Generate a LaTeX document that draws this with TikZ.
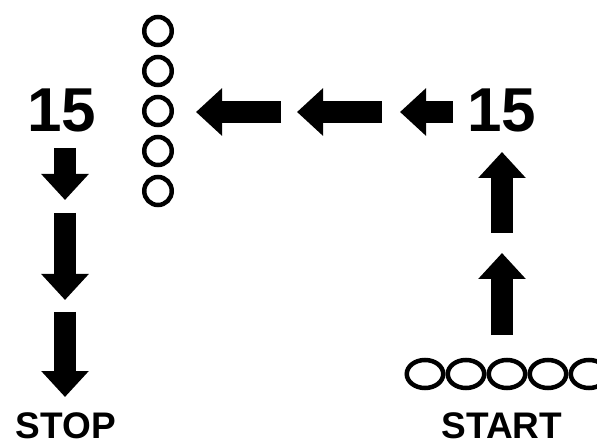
\documentclass[tikz,border=0pt]{standalone}
\usepackage{fontspec}
\setmainfont{Liberation Sans}
\usetikzlibrary{arrows.meta,shapes.geometric}
\tikzset{
  blk/.style={line width=22pt,-{Triangle[length=26pt,width=46pt]}},
  ring/.style={draw,ellipse,line width=4.5pt,inner sep=0pt,minimum width=27.5pt,minimum height=28pt},
  wide/.style={ring,minimum width=36.5pt},
  num/.style={font=\fontsize{62}{62}\selectfont\bfseries,inner sep=0pt},
  word/.style={font=\fontsize{37}{37}\selectfont\bfseries,inner sep=0pt}
}
\begin{document}
\begin{tikzpicture}[x=1pt,y=-1pt]
    \useasboundingbox (0,0) rectangle (597,446);
    % Zahlen und Worte
    \node[num] (nleft) at (62,110) {15};
    \node[num] (nright) at (502,110) {15};
    \node[word] (stop) at (66,426) {STOP};
    \node[word] (start) at (502,426) {START};
    % Kreise
    \foreach \i/\y in {1/31,2/71,3/111,4/151,5/191}
        \node[ring] (v\i) at (158,\y) {};
    \foreach \i/\x in {1/425,2/466,3/507,4/548,5/589}
        \node[wide] (h\i) at (\x,374) {};
    % Pfeile
    \coordinate (u1s) at (502,233); \coordinate (u1e) at (502,152);
    \coordinate (u2s) at (502,335); \coordinate (u2e) at (502,253);
    \coordinate (l1s) at (281,112); \coordinate (l1e) at (196,112);
    \coordinate (l2s) at (382,112); \coordinate (l2e) at (297,112);
    \coordinate (l3s) at (453,112); \coordinate (l3e) at (400,112);
    \coordinate (d1s) at (65,148);  \coordinate (d1e) at (65,200);
    \coordinate (d2s) at (65,213);  \coordinate (d2e) at (65,300);
    \coordinate (d3s) at (65,312);  \coordinate (d3e) at (65,397);
    \foreach \a in {u1,u2,l1,l2,l3,d1,d2,d3}
        \draw[blk] (\a s) -- (\a e);
\end{tikzpicture}
\end{document}
